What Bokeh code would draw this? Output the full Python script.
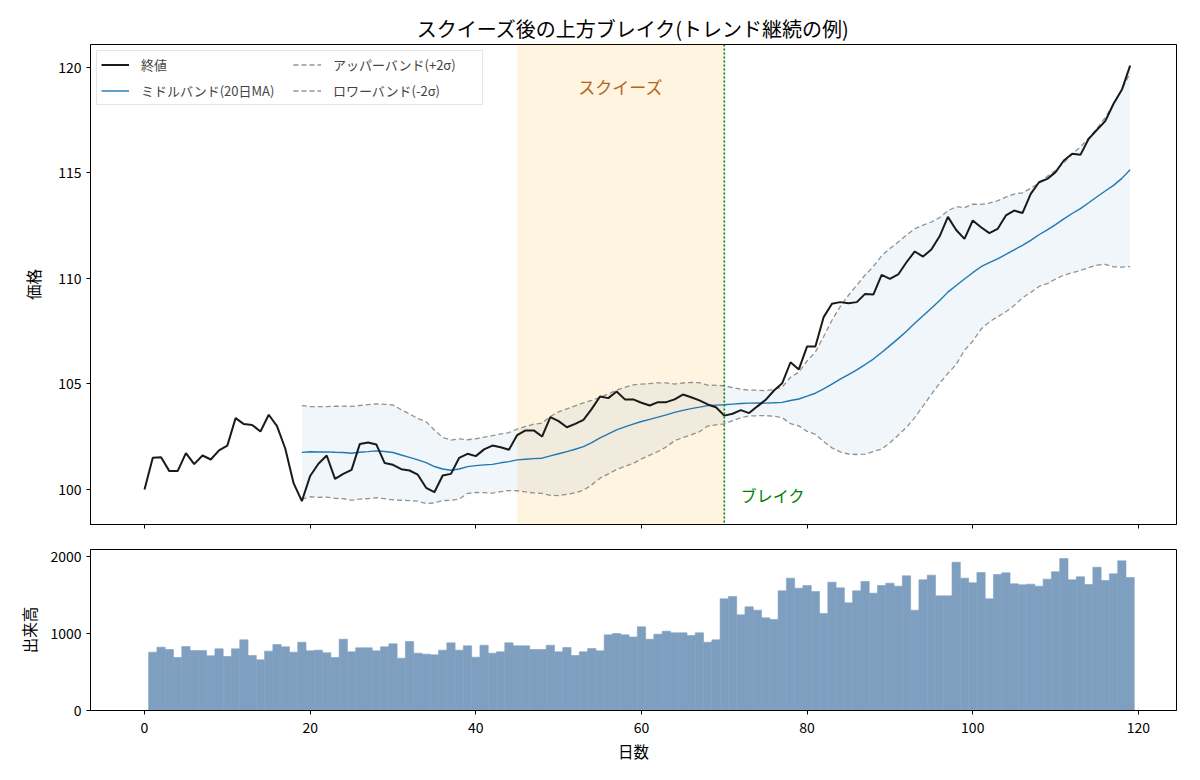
import numpy as np
import pandas as pd
from bokeh.plotting import figure
from bokeh.models import (ColumnDataSource, Range1d, FixedTicker, CustomJSTickFormatter,
                          BoxAnnotation, Span, Label, Legend, LegendItem)
from bokeh.layouts import column
from bokeh.embed import file_html
from bokeh.resources import INLINE

FONT = "Noto Sans CJK JP"

title_text = "スクイーズ後の上方ブレイク(トレンド継続の例)"
days = list(range(120))
close = [100.0, 101.5, 101.53, 100.87, 100.87, 101.72, 101.2, 101.61, 101.42, 101.85,
         102.08, 103.38, 103.1, 103.06, 102.75, 103.54, 103.0, 101.93, 100.3, 99.45,
         100.64, 101.22, 101.61, 100.5, 100.74, 100.93, 102.16, 102.23, 102.13, 101.25,
         101.17, 100.96, 100.9, 100.7, 100.08, 99.87, 100.66, 100.74, 101.5, 101.69,
         101.58, 101.9, 102.08, 102.0, 101.88, 102.58, 102.8, 102.8, 102.51, 103.43,
         103.24, 102.95, 103.11, 103.3, 103.82, 104.41, 104.33, 104.64, 104.27, 104.27,
         104.11, 103.98, 104.14, 104.14, 104.27, 104.5, 104.37, 104.22, 104.03, 103.9,
         103.5, 103.59, 103.76, 103.62, 103.94, 104.25, 104.69, 105.04, 106.03, 105.69,
         106.78, 106.78, 108.17, 108.8, 108.88, 108.83, 108.88, 109.27, 109.24, 110.17,
         109.98, 110.19, 110.77, 111.28, 111.04, 111.37, 112.0, 112.92, 112.3, 111.88,
         112.75, 112.43, 112.15, 112.35, 112.99, 113.22, 113.1, 114.01, 114.56, 114.72,
         115.04, 115.59, 115.91, 115.86, 116.62, 117.05, 117.46, 118.28, 118.94, 120.09]
vol_days = list(range(1, 120))
volume = [758, 823, 792, 688, 831, 779, 779, 710, 801, 701,
          801, 918, 714, 658, 771, 857, 827, 758, 887, 775,
          784, 749, 688, 926, 762, 814, 814, 775, 827, 866,
          680, 896, 745, 732, 723, 784, 879, 784, 840, 693,
          848, 745, 762, 879, 840, 840, 792, 792, 848, 762,
          818, 714, 762, 805, 775, 983, 1000, 983, 955, 1087,
          926, 991, 1030, 1009, 1009, 974, 1009, 887, 918, 1450,
          1481, 1242, 1346, 1303, 1203, 1182, 1554, 1719, 1589, 1623,
          1545, 1260, 1667, 1593, 1398, 1554, 1675, 1524, 1623, 1654,
          1615, 1749, 1303, 1697, 1758, 1489, 1489, 1926, 1719, 1658,
          1792, 1450, 1766, 1788, 1645, 1632, 1641, 1615, 1706, 1801,
          1974, 1697, 1736, 1636, 1861, 1688, 1775, 1944, 1727]
window = 20
squeeze_start, squeeze_end = 45, 70
break_day = 70
legend_labels = ["終値", "ミドルバンド(20日MA)", "アッパーバンド(+2σ)", "ロワーバンド(-2σ)"]
x_ticks = [0, 20, 40, 60, 80, 100, 120]
price_ticks = [100, 105, 110, 115, 120]
vol_ticks = [0, 1000, 2000]

s = pd.Series(close, dtype=float)
mid = s.rolling(window).mean()
sd = s.rolling(window).std(ddof=0)
upper = mid + 2 * sd
lower = mid - 2 * sd

src = ColumnDataSource(dict(x=days, close=close))
band = ColumnDataSource(dict(x=days[window - 1:], mid=mid.values[window - 1:],
                             upper=upper.values[window - 1:], lower=lower.values[window - 1:]))
vsrc = ColumnDataSource(dict(x=vol_days, v=volume))

XR = Range1d(-6.52, 124.6)


def style(p):
    p.outline_line_color = "black"
    p.outline_line_width = 1
    p.outline_line_alpha = 1
    p.xgrid.visible = False
    p.ygrid.visible = False
    for ax in (p.xaxis, p.yaxis):
        ax.axis_line_color = "black"
        ax.major_tick_in = 0
        ax.major_tick_out = 4
        ax.minor_tick_line_color = None
        ax.major_label_text_font = FONT
        ax.major_label_text_font_size = "14px"
        ax.major_label_text_color = "black"
        ax.axis_label_text_font = FONT
        ax.axis_label_text_font_size = "15.5px"
        ax.axis_label_text_font_style = "normal"
        ax.axis_label_text_color = "black"
    p.background_fill_color = "white"
    p.border_fill_color = "white"


p = figure(width=1192, height=536, x_range=XR, y_range=Range1d(98.34, 121.09),
           output_backend="svg", toolbar_location=None,
           min_border_left=90, min_border_right=16, min_border_top=44, min_border_bottom=12)
style(p)
p.title.text = title_text
p.title.align = "center"
p.title.text_font = FONT
p.title.text_font_size = "20px"
p.title.text_font_style = "normal"
p.title.text_color = "black"
p.title.standoff = 4
p.xaxis.ticker = FixedTicker(ticks=x_ticks)
p.xaxis.formatter = CustomJSTickFormatter(code="return ''")
p.yaxis.ticker = FixedTicker(ticks=price_ticks)
p.yaxis.axis_label = "価格"
p.yaxis.axis_label_standoff = 11

p.add_layout(BoxAnnotation(left=squeeze_start, right=squeeze_end, fill_color="orange",
                           fill_alpha=0.12, line_color=None, level="underlay"))
p.varea(x="x", y1="lower", y2="upper", source=band, fill_color="#1f77b4", fill_alpha=0.065)
r_up = p.line("x", "upper", source=band, line_color="gray", line_alpha=0.85, line_width=1.3, line_dash="5 3")
r_lo = p.line("x", "lower", source=band, line_color="gray", line_alpha=0.85, line_width=1.3, line_dash="5 3")
r_mid = p.line("x", "mid", source=band, line_color="#1f77b4", line_width=1.4)
r_close = p.line("x", "close", source=src, line_color="#1a1a1a", line_width=2)
p.add_layout(Span(location=break_day, dimension="height", line_color="green",
                  line_width=1.6, line_dash="2 2"))
p.add_layout(Label(x=(squeeze_start + squeeze_end) / 2, y=119.1, text="スクイーズ",
                   text_align="center", text_baseline="middle", text_font=FONT,
                   text_font_size="17px", text_color="#b5651d"))
p.add_layout(Label(x=break_day + 2, y=99.72, text="ブレイク", text_align="left",
                   text_baseline="middle", text_font=FONT, text_font_size="16px",
                   text_color="green"))

legend = Legend(items=[LegendItem(label=legend_labels[0], renderers=[r_close]),
                       LegendItem(label=legend_labels[1], renderers=[r_mid]),
                       LegendItem(label=legend_labels[2], renderers=[r_up]),
                       LegendItem(label=legend_labels[3], renderers=[r_lo])],
                location="top_left", ncols=2)
legend.label_text_font = FONT
legend.label_text_font_size = "13px"
legend.label_height = 15
legend.label_width = 145
legend.label_standoff = 12
legend.glyph_height = 15
legend.glyph_width = 28
legend.spacing = 7
legend.padding = 4
legend.margin = 6
legend.border_line_color = "#cccccc"
legend.background_fill_alpha = 0.85
p.add_layout(legend)

v = figure(width=1192, height=236, x_range=XR, y_range=Range1d(0, 2091),
           output_backend="svg", toolbar_location=None,
           min_border_left=90, min_border_right=16, min_border_top=13, min_border_bottom=62)
style(v)
v.vbar(x="x", top="v", width=1.0, source=vsrc, fill_color="#7f9fc0",
       line_color="#7f9fc0", line_width=0.6)
v.xaxis.ticker = FixedTicker(ticks=x_ticks)
v.xaxis.major_label_standoff = 7
v.xaxis.axis_label_standoff = 4
v.yaxis.ticker = FixedTicker(ticks=vol_ticks)
v.yaxis.axis_label_standoff = 7
v.xaxis.axis_label = "日数"
v.yaxis.axis_label = "出来高"

layout = column(p, v, spacing=0)
open("out.html", "w").write(file_html(layout, INLINE))
